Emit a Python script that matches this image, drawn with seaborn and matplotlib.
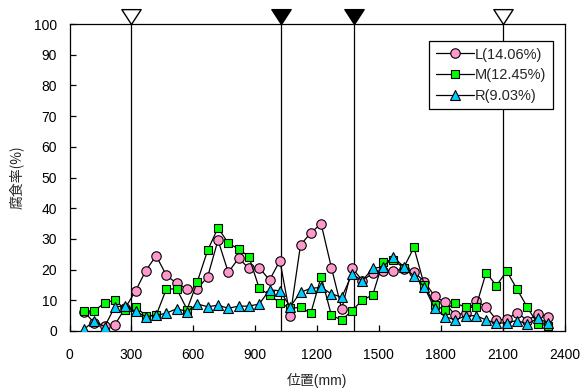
import numpy as np
import pandas as pd
import matplotlib
matplotlib.use("Agg")
import matplotlib.pyplot as plt
from matplotlib.path import Path
import seaborn as sns

# ---------------- data ----------------
positions = [70, 120, 170, 220, 270, 320, 370, 420, 470, 520,
             570, 620, 670, 720, 770, 820, 870, 920, 970, 1020,
             1070, 1120, 1170, 1220, 1270, 1320, 1370, 1420, 1470, 1520,
             1570, 1620, 1670, 1720, 1770, 1820, 1870, 1920, 1970, 2020,
             2070, 2120, 2170, 2220, 2270, 2320]

L_vals = [6.3, 2.7, 1.5, 2.0, 7.5, 13.0, 19.7, 24.5, 18.1, 15.5,
          13.7, 13.7, 17.7, 29.6, 19.1, 23.7, 20.4, 20.6, 16.6, 22.9,
          4.9, 28.0, 32.0, 34.9, 20.6, 7.1, 20.6, 16.4, 18.8, 19.7,
          19.7, 20.1, 19.3, 16.1, 11.4, 9.3, 5.1, 6.0, 9.8, 7.9,
          3.6, 3.8, 6.0, 3.4, 5.5, 4.7]

M_vals = [6.5, 6.5, 9.2, 10.1, 7.0, 7.9, 5.0, 5.1, 13.7, 13.7,
          7.0, 16.1, 26.3, 33.6, 28.6, 26.7, 24.2, 13.9, 11.7, 9.2,
          7.4, 7.7, 5.8, 17.7, 5.1, 3.6, 6.6, 10.1, 11.7, 22.6,
          23.1, 20.6, 27.2, 15.0, 8.5, 6.8, 9.2, 7.7, 7.7, 19.0,
          14.8, 19.5, 13.6, 7.7, 2.3, 1.7]

R_vals = [0.5, 3.4, 1.4, 7.9, 8.1, 6.4, 4.7, 5.1, 5.8, 7.3,
          6.3, 8.8, 7.9, 8.4, 7.4, 8.1, 8.1, 8.8, 13.4, 13.1,
          7.9, 12.6, 13.9, 14.2, 12.1, 11.0, 18.5, 16.4, 20.4, 20.9,
          24.2, 20.9, 17.9, 14.4, 7.4, 4.7, 3.6, 4.9, 5.0, 3.6,
          2.5, 2.7, 3.4, 2.3, 4.1, 2.7]

series_labels = ["L(14.06%)", "M(12.45%)", "R(9.03%)"]
series_colors = ["#FF99CC", "#00FF00", "#00CCFF"]
series_markers = ["o", "s", "^"]

flag_positions = [300, 1025, 1380, 2100]
flag_filled = [False, True, True, False]

x_ticks = [0, 300, 600, 900, 1200, 1500, 1800, 2100, 2400]
y_ticks = [0, 10, 20, 30, 40, 50, 60, 70, 80, 90, 100]

# ---------------- style ----------------
sns.set_theme(style="ticks")
plt.rcParams["font.family"] = ["Liberation Sans", "Noto Sans CJK JP", "DejaVu Sans"]

fig = plt.figure(figsize=(5.82, 3.92), dpi=100)
W, H = 582, 392
left, right, top, bottom = 69.5, 564.5, 24, 331
ax = fig.add_axes([left / W, 1 - bottom / H, (right - left) / W, (bottom - top) / H])

df = pd.DataFrame({"x": positions, "L": L_vals, "M": M_vals, "R": R_vals})

# vertical reference lines
for xv in flag_positions:
    ax.axvline(xv, color="black", lw=0.9, zorder=1.5)

sizes = [6.8, 6.4, 7.4]
for key, lab, col, mk, ms in zip(["L", "M", "R"], series_labels, series_colors,
                                  series_markers, sizes):
    sns.lineplot(data=df, x="x", y=key, ax=ax, color="black", lw=0.9,
                 marker=mk, markersize=ms, markerfacecolor=col,
                 markeredgecolor="black", markeredgewidth=0.8, label=lab,
                 zorder=3)

# triangle flags above axis
tri = Path([(-0.65, 1.0), (0.65, 1.0), (0.0, 0.0), (-0.65, 1.0)],
           [Path.MOVETO, Path.LINETO, Path.LINETO, Path.CLOSEPOLY])
for xv, filled in zip(flag_positions, flag_filled):
    ax.plot([xv], [1.0], transform=ax.get_xaxis_transform(), marker=tri,
            markersize=21.4, markerfacecolor="black" if filled else "white",
            markeredgecolor="black", markeredgewidth=1.0, ls="none",
            clip_on=False, zorder=6)

ax.set_xlim(0, 2400)
ax.set_ylim(0, 100)
ax.set_xticks(x_ticks)
ax.set_yticks(y_ticks)
ax.tick_params(direction="in", length=4, width=0.9, colors="black",
               labelsize=10, top=False, right=False)
ax.tick_params(axis="x", pad=12)
ax.tick_params(axis="y", pad=9)
for s in ax.spines.values():
    s.set_visible(True)
    s.set_color("black")
    s.set_linewidth(0.9)

ax.set_xlabel("位置(mm)", fontsize=10, family=["Liberation Sans", "Noto Sans CJK JP"])
ax.xaxis.set_label_coords(0.5, -0.135)
ax.set_ylabel("腐食率(%)", fontsize=10, family=["Noto Sans CJK JP", "DejaVu Sans"])
ax.yaxis.set_label_coords(-0.092, 0.5)

leg = ax.legend(loc="upper right", bbox_to_anchor=(553 / W, 1 - 41 / H),
                bbox_transform=fig.transFigure, frameon=True, fancybox=False,
                edgecolor="black", framealpha=1, borderaxespad=0,
                handlelength=2.6, handletextpad=0.1, labelspacing=0.45,
                borderpad=0.45, fontsize=10.5)
leg.get_frame().set_linewidth(0.9)
leg.set_zorder(7)

fig.savefig("out.png", dpi=100)
